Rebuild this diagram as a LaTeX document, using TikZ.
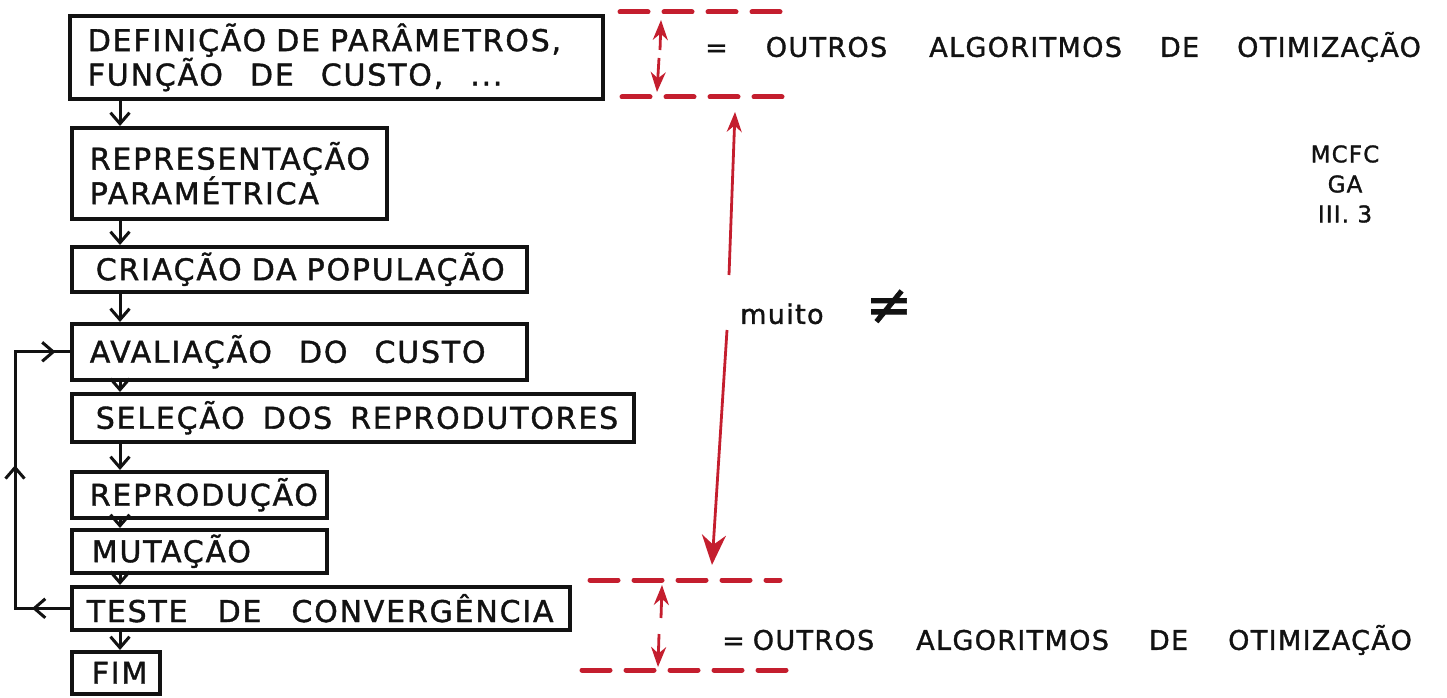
\documentclass[tikz,border=0pt]{standalone}
\usepackage{fontspec}
\setmainfont{DejaVu Sans}
\newfontfamily\hand[LetterSpace=6,FakeBold=1.3]{DejaVu Sans}
\newfontfamily\handr[LetterSpace=5,FakeBold=1.3]{DejaVu Sans}
\usetikzlibrary{arrows.meta,decorations.markings}
\definecolor{pen}{RGB}{18,18,18}
\definecolor{redpen}{RGB}{196,30,46}
\newcommand{\wg}{\hspace{0.9em}}
\begin{document}
\begin{tikzpicture}[x=1pt,y=-1pt,
  box/.style={draw=pen, line width=3.6pt, anchor=north west, inner ysep=0pt,
    align=left, text=pen, font=\hand\fontsize{30}{33}\selectfont},
  flow/.style={draw=pen, line width=3pt, -{Straight Barb[length=11pt,width=19pt,line width=3pt]}},
  loopline/.style={draw=pen, line width=3pt, postaction={decorate},
    decoration={markings,
      mark=at position 38pt with {\arrow{Straight Barb[length=11pt,width=19pt,line width=3pt]}},
      mark=at position 198pt with {\arrow{Straight Barb[length=11pt,width=19pt,line width=3pt]}},
      mark=at position 352pt with {\arrow{Straight Barb[length=11pt,width=19pt,line width=3pt]}}}},
  rdash/.style={draw=redpen, line width=5pt, dash pattern=on 28pt off 16pt, line cap=round},
  rarr/.style={draw=redpen, line width=2.8pt, -{Stealth[length=20pt,width=15pt]}},
  rbig/.style={draw=redpen, line width=2.8pt, -{Stealth[length=30pt,width=24pt]}},
  rtxt/.style={anchor=west, inner sep=0pt, text=pen, font=\handr\fontsize{27}{30}\selectfont}
]
\useasboundingbox (0,0) rectangle (1447,698);

% flowchart boxes
\node[box, minimum width=533pt, minimum height=83pt, inner xsep=18pt, text width=497pt] (b1) at (68,14)
  {\mbox{DEFINIÇÃO DE PARÂMETROS,}\\\mbox{FUNÇÃO\wg DE\wg CUSTO,\wg ...}};
\node[box, minimum width=315pt, minimum height=91pt, inner xsep=18pt, text width=279pt] (b2) at (70,126)
  {\mbox{REPRESENTAÇÃO}\\\mbox{PARAMÉTRICA}};
\node[box, minimum width=455pt, minimum height=45pt, inner xsep=24pt, text width=407pt] (b3) at (70,245)
  {\mbox{CRIAÇÃO DA POPULAÇÃO}};
\node[box, minimum width=455pt, minimum height=56pt, inner xsep=18pt, text width=419pt] (b4) at (70,322)
  {\mbox{AVALIAÇÃO\wg DO\wg CUSTO}};
\node[box, minimum width=562pt, minimum height=48pt, inner xsep=24pt, text width=514pt] (b5) at (70,392)
  {\mbox{SELEÇÃO\hspace{0.6em}DOS\hspace{0.6em}REPRODUTORES}};
\node[box, minimum width=255pt, minimum height=46pt, inner xsep=18pt, text width=219pt] (b6) at (70,470)
  {\mbox{REPRODUÇÃO}};
\node[box, minimum width=255pt, minimum height=43pt, inner xsep=20pt, text width=215pt] (b7) at (70,528)
  {\mbox{MUTAÇÃO}};
\node[box, minimum width=498pt, minimum height=43pt, inner xsep=15pt, text width=468pt] (b8) at (70,585)
  {\mbox{TESTE\hspace{1em}DE\hspace{1em}CONVERGÊNCIA}};
\node[box, minimum width=88pt, minimum height=42pt, inner xsep=20pt, text width=48pt] (b9) at (70,650)
  {\mbox{FIM}};

% vertical flow connectors
\coordinate (axis) at (120,0);
\draw[flow] (b1.south -| axis) -- (b2.north -| axis);
\draw[flow] (b2.south -| axis) -- (b3.north -| axis);
\draw[flow] (b3.south -| axis) -- (b4.north -| axis);
\draw[flow] (b4.south -| axis) -- (b5.north -| axis);
\draw[flow] (b5.south -| axis) -- (b6.north -| axis);
\draw[flow] (b6.south -| axis) -- (b7.north -| axis);
\draw[flow] (b7.south -| axis) -- (b8.north -| axis);
\draw[flow] (b8.south -| axis) -- (b9.north -| axis);

% feedback loop
\coordinate (lp) at (15,0);
\draw[loopline] (b8.west) -- (b8.west -| lp) -- (b4.west -| lp) -- (b4.west);

% red dashed markers (top)
\coordinate (ta1) at (620,12);  \coordinate (ta2) at (780,12);
\coordinate (tb1) at (622,97);  \coordinate (tb2) at (782,97);
\draw[rdash] (ta1) -- (ta2);
\draw[rdash] (tb1) -- (tb2);
\coordinate (tm1) at (660,50); \coordinate (tm2) at (659,58);
\coordinate (tt) at (661,20);  \coordinate (tbt) at (657,92);
\draw[rarr] (tm1) -- (tt);
\draw[rarr] (tm2) -- (tbt);

% red dashed markers (bottom)
\coordinate (ua1) at (590,580); \coordinate (ua2) at (780,580);
\coordinate (ub1) at (582,670); \coordinate (ub2) at (788,670);
\draw[rdash] (ua1) -- (ua2);
\draw[rdash] (ub1) -- (ub2);
\coordinate (um1) at (661,618); \coordinate (um2) at (659,634);
\coordinate (ut) at (662,585);  \coordinate (ubt) at (658,667);
\draw[rarr] (um1) -- (ut);
\draw[rarr] (um2) -- (ubt);

% long red arrow
\coordinate (la1) at (729,275); \coordinate (lat) at (735,112);
\coordinate (la2) at (727,330); \coordinate (lab) at (712,565);
\draw[rarr] (la1) -- (lat);
\draw[rbig] (la2) -- (lab);

% texts on the right
\node[rtxt] (o1) at (705,47) {=\hspace{38pt}OUTROS\hspace{42pt}ALGORITMOS\hspace{38pt}DE\hspace{38pt}OTIMIZAÇÃO};
\node[rtxt] (o2) at (722,640) {=\hspace{8pt}OUTROS\hspace{42pt}ALGORITMOS\hspace{40pt}DE\hspace{40pt}OTIMIZAÇÃO};
\node[rtxt] (mu) at (740,307) {muito\hspace{42pt}{\fontsize{56}{56}\selectfont ≠}};
\node[align=center, inner sep=0pt, text=pen, font=\handr\fontsize{23}{30}\selectfont] (ref) at (1345,184) {MCFC\\GA\\III. 3};
\end{tikzpicture}
\end{document}
